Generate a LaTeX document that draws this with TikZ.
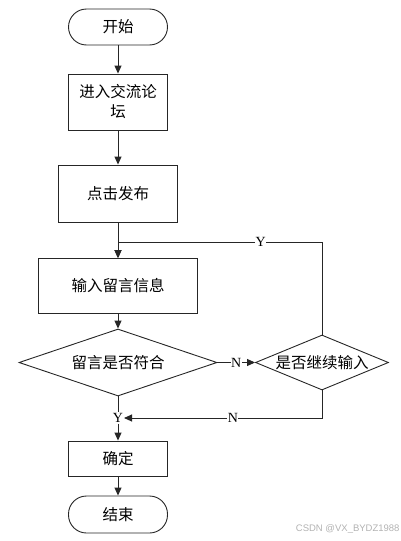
\documentclass[tikz,border=0pt]{standalone}
\usepackage{fontspec}
\setmainfont{Liberation Serif}
\newfontfamily\cjk{Noto Sans CJK SC}
\newfontfamily\wmfont{Liberation Sans}
\usetikzlibrary{arrows.meta,shapes.geometric}

\begin{document}
\begin{tikzpicture}[x=1pt, y=-1pt, >={Triangle[length=8pt,width=7pt]}, line width=0.9pt, draw=black!85]
		\tikzset{terminal/.style={draw, rectangle, rounded corners=18pt, minimum width=99pt, minimum height=36pt, font=\cjk\fontsize{15.5}{20}\selectfont},
			procbox/.style={draw, rectangle, minimum height=56pt, align=center, font=\cjk\fontsize{15.5}{20}\selectfont},
			decision/.style={draw, diamond, inner sep=0pt, font=\cjk\fontsize{15.5}{20}\selectfont},
			lab/.style={fill=white, inner sep=0.5pt, font=\fontsize{14}{16}\selectfont}}
		\useasboundingbox (0,0) rectangle (401,541);
		% main column
		\node[terminal] (start) at (118,27) {开始};
		\node[procbox, minimum width=99pt] (forum) at (118,102) {进入交流论\\坛};
		\node[procbox, minimum width=119pt, minimum height=57pt] (post) at (118,193.5) {点击发布};
		\node[procbox, minimum width=159pt, minimum height=55pt] (msg) at (118,286) {输入留言信息};
		\node[decision, aspect=2.95, minimum width=198pt, minimum height=67pt] (check) at (118,362.5) {留言是否符合};
		\node[decision, aspect=2.42, minimum width=133pt, minimum height=55pt] (again) at (322,362.5) {是否继续输入};
		\node[lab] (yes) at (118,418) {Y};
		\node[procbox, minimum width=99pt, minimum height=35pt] (ok) at (118,458.5) {确定};
		\node[terminal, minimum height=37pt] (stop) at (118,514.5) {结束};
		\coordinate (top) at (118,242);
		\coordinate (low) at (322,418);
		% connectors
		\draw[->] (start) -- (forum);
		\draw[->] (forum) -- (post);
		\draw[->] (post) -- (msg);
		\draw[->] (msg) -- (check);
		\draw[->] (check) -- node[lab]{N} (again);
		\draw[->] (again.north) |- node[lab, pos=0.65]{Y} (top) -- (msg.north);
		\draw (check.south) -- (yes.north);
		\draw[->] (again.south) -- (low) -- node[lab, pos=0.45]{N} (yes.east);
		\draw[->] (yes.south) -- (ok);
		\draw[->] (ok) -- (stop);
		% watermark
		\node[anchor=east, text=black!30, font=\wmfont\fontsize{9.5}{11}\selectfont, inner sep=0pt] (mark) at (400,529) {CSDN @VX\_BYDZ1988};
	\end{tikzpicture}
\end{document}
